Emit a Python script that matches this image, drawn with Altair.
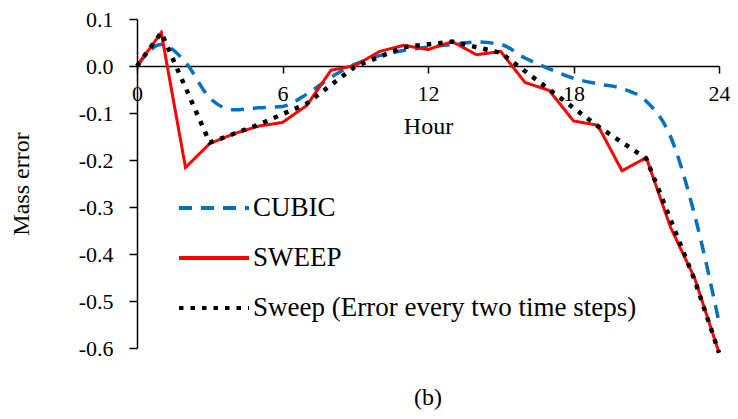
import altair as alt
import pandas as pd

hours = list(range(25))
cubic = [0.0, 0.046, 0.008, -0.068, -0.093, -0.089, -0.086, -0.060, -0.024, 0.004,
         0.022, 0.033, 0.040, 0.046, 0.051, 0.046, 0.017, -0.006, -0.026, -0.038,
         -0.048, -0.075, -0.150, -0.318, -0.545]
sweep = [0.0, 0.071, -0.216, -0.165, -0.144, -0.128, -0.120, -0.084, -0.009, 0.001,
         0.031, 0.044, 0.035, 0.052, 0.024, 0.031, -0.035, -0.052, -0.117, -0.126,
         -0.223, -0.195, -0.343, -0.452, -0.610]
sweep2_hours = [0, 1, 3, 5, 7, 9, 11, 13, 15, 17, 19, 21, 23, 24]
sweep2 = [0.0, 0.071, -0.163, -0.125, -0.080, -0.001, 0.040, 0.052, 0.028, -0.050,
          -0.128, -0.197, -0.456, -0.610]

names = ["CUBIC", "SWEEP", "Sweep (Error every two time steps)"]
colors = ["#0070C0", "#FF0000", "#000000"]
dashes = [[13, 9], [1, 0], [4.5, 7]]
x_ticks = [0, 6, 12, 18, 24]
y_ticks = [0.1, 0.0, -0.1, -0.2, -0.3, -0.4, -0.5, -0.6]

rows = []
for h, v in zip(hours, cubic):
    rows.append({"hour": h, "err": v, "series": names[0]})
for h, v in zip(hours, sweep):
    rows.append({"hour": h, "err": v, "series": names[1]})
for h, v in zip(sweep2_hours, sweep2):
    rows.append({"hour": h, "err": v, "series": names[2]})
df = pd.DataFrame(rows)

FONT = "Liberation Serif"
H = 329
W = 582
zero_px = H * 0.1 / 0.7

x_enc = alt.X("hour:Q", scale=alt.Scale(domain=[0, 24], nice=False),
              axis=alt.Axis(values=x_ticks, title="Hour", offset=-(H - zero_px),
                            labelFontSize=22, titleFontSize=24, tickSize=7,
                            labelPadding=10, titlePadding=10, format="d",
                            grid=False))
y_enc = alt.Y("err:Q", scale=alt.Scale(domain=[-0.6, 0.1], nice=False, zero=False),
              axis=alt.Axis(values=y_ticks, title="Mass error", tickSize=8,
                            labelPadding=16, labelFontSize=22, titleFontSize=24,
                            titlePadding=45, grid=False,
                            labelExpr="datum.value < -0.001 ? '-' + format(-datum.value, '.1f') : format(abs(datum.value), '.1f')"))
legend = alt.Legend(title=None, orient="none", legendX=40, legendY=152,
                    symbolType="stroke", symbolSize=4900,
                    symbolStrokeWidth=4, labelFontSize=27,
                    labelFont=FONT, rowPadding=-13, labelOffset=2,
                    padding=0, labelLimit=600)
color_enc = alt.Color("series:N", scale=alt.Scale(domain=names, range=colors), legend=legend)
dash_enc = alt.StrokeDash("series:N", scale=alt.Scale(domain=names, range=dashes), legend=legend)

base = alt.Chart(df)
blue = base.transform_filter(alt.datum.series == names[0]).mark_line(
    strokeWidth=3.5, interpolate="monotone").encode(
    x=x_enc, y=y_enc, color=color_enc, strokeDash=dash_enc)
red = base.transform_filter(alt.datum.series == names[1]).mark_line(
    strokeWidth=3).encode(
    x=x_enc, y=y_enc, color=color_enc, strokeDash=dash_enc)
black = base.transform_filter(alt.datum.series == names[2]).mark_line(
    strokeWidth=4.5).encode(
    x=x_enc, y=y_enc, color=color_enc, strokeDash=dash_enc)

chart = alt.layer(blue, red, black).properties(
    width=W, height=H,
    autosize=alt.AutoSizeParams(type="none"),
    padding={"left": 129, "top": 11, "right": 11, "bottom": 62},
    title=alt.TitleParams("(b)", orient="bottom", anchor="middle", fontSize=24,
                          font=FONT, fontWeight="normal", offset=24, color="black"),
).configure_view(stroke=None).configure_axis(
    labelFont=FONT, titleFont=FONT, titleFontWeight="normal", labelColor="black",
    titleColor="black", domainColor="black", tickColor="black", domainWidth=1.5,
    tickWidth=1.5, labelFlush=False, labelOverlap=False
)

chart.save("out.html", embed_options={"renderer": "svg", "actions": False})
